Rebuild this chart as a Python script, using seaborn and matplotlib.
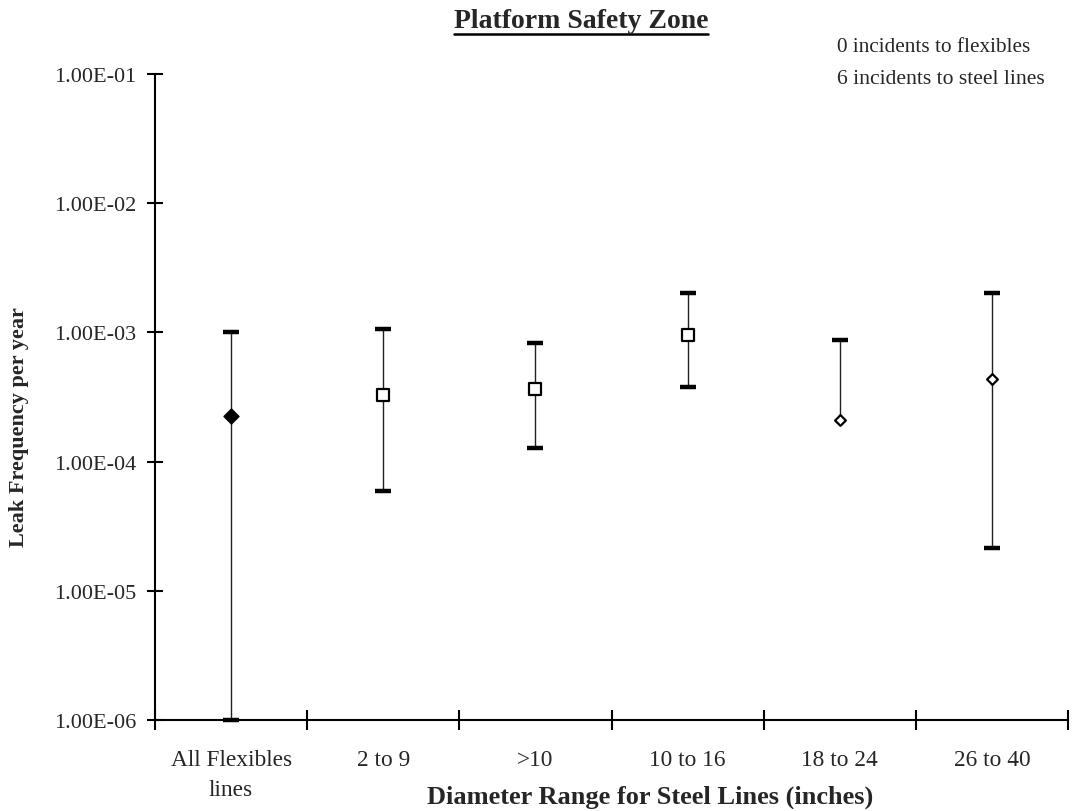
import numpy as np
import pandas as pd
import matplotlib
matplotlib.use("Agg")
import matplotlib.pyplot as plt
from matplotlib.lines import Line2D
import seaborn as sns

# Leak frequency estimates (per year) with confidence bounds
categories = ["All Flexibles\nlines", "2 to 9", ">10", "10 to 16", "18 to 24", "26 to 40"]
estimate = [2.27e-4, 3.30e-4, 3.65e-4, 9.55e-4, 2.11e-4, 4.36e-4]
upper = [1.00e-3, 1.06e-3, 8.28e-4, 2.02e-3, 8.79e-4, 2.02e-3]
lower = [1.00e-6, 5.92e-5, 1.27e-4, 3.78e-4, np.nan, 2.14e-5]
notes = ["0 incidents to flexibles", "6 incidents to steel lines"]

df = pd.DataFrame({
    "pos": np.arange(len(categories)),
    "category": categories,
    "estimate": estimate,
    "upper": upper,
    "lower": lower,
})

sns.set_style("white")
plt.rcParams["font.family"] = ["Liberation Serif", "DejaVu Serif"]

fig = plt.figure(figsize=(10.74, 8.12), dpi=100)
ax = fig.add_axes([155 / 1074, 1 - 721 / 812, (1068 - 155) / 1074, (721 - 75) / 812])
ax.set_yscale("log")
ax.set_ylim(1e-6, 1e-1)
ax.set_xlim(-0.5, len(categories) - 0.5)

# Confidence interval lines (to the estimate where no lower bound exists)
seg_low = df["lower"].fillna(df["estimate"])
ax.vlines(df["pos"], seg_low, df["upper"], color="#222222", lw=1.0, zorder=2)

# Interval caps
cap_kw = dict(marker="_", markersize=11, markeredgewidth=3.2, color="black",
              linestyle="none", zorder=3, clip_on=False)
ax.plot(df["pos"], df["upper"], **cap_kw)
has_low = df["lower"].notna()
ax.plot(df.loc[has_low, "pos"], df.loc[has_low, "lower"], **cap_kw)

# Point estimates: flexibles filled diamond, steel lines open squares / diamonds
sns.scatterplot(data=df.iloc[[0]], x="pos", y="estimate", marker="D", s=58,
                color="black", edgecolor="black", linewidth=1, ax=ax, zorder=4)
sns.scatterplot(data=df.iloc[[1, 2, 3]], x="pos", y="estimate", marker="s", s=70,
                facecolor="white", edgecolor="black", linewidth=1.6, ax=ax, zorder=4)
sns.scatterplot(data=df.iloc[[4, 5]], x="pos", y="estimate", marker="D", s=30,
                facecolor="white", edgecolor="black", linewidth=1.6, ax=ax, zorder=4)

# Axes styling
for side in ("top", "right"):
    ax.spines[side].set_visible(False)
for side in ("left", "bottom"):
    ax.spines[side].set_color("black")
    ax.spines[side].set_linewidth(1.5)

ax.set_yticks([1e-6, 1e-5, 1e-4, 1e-3, 1e-2, 1e-1])
ax.set_yticklabels(["1.00E-06", "1.00E-05", "1.00E-04", "1.00E-03", "1.00E-02", "1.00E-01"])
ax.yaxis.set_minor_locator(matplotlib.ticker.NullLocator())
ax.tick_params(axis="y", which="major", left=True, direction="inout", length=11,
               width=1.5, labelsize=16, pad=8, color="black")

ax.set_xticks(np.arange(len(categories) + 1) - 0.5)
ax.set_xticklabels([""] * (len(categories) + 1))
ax.set_xticks(df["pos"], minor=True)
ax.set_xticklabels(categories, minor=True, fontsize=16.8, linespacing=1.55, va="top")
ax.tick_params(axis="x", which="major", bottom=True, direction="inout", length=14,
               width=1.5, color="black")
ax.tick_params(axis="x", which="minor", bottom=True, length=0, pad=21)

ax.set_xlabel("")
ax.set_ylabel("")
ax.grid(False)

fig.text(650 / 1074, 1 - 797 / 812, "Diameter Range for Steel Lines (inches)",
         fontsize=19, fontweight="bold", ha="center", va="center")
fig.text(19 / 1074, 1 - 427 / 812, "Leak Frequency per year", fontsize=16,
         fontweight="bold", ha="center", va="center", rotation=90)

title = fig.text(581 / 1074, 1 - 21 / 812, "Platform Safety Zone", fontsize=20,
                 fontweight="bold", ha="center", va="center")
fig.text(837 / 1074, 1 - 48 / 812, notes[0], fontsize=15.3, ha="left", va="center")
fig.text(837 / 1074, 1 - 80 / 812, notes[1], fontsize=15.6, ha="left", va="center")

# Underline the title
fig.canvas.draw()
bb = title.get_window_extent().transformed(fig.transFigure.inverted())
fig.add_artist(Line2D([bb.x0, bb.x1], [bb.y0 - 0.002, bb.y0 - 0.002],
                      transform=fig.transFigure, color="black", lw=1.8))

fig.savefig("out.png", dpi=100, facecolor="white")
